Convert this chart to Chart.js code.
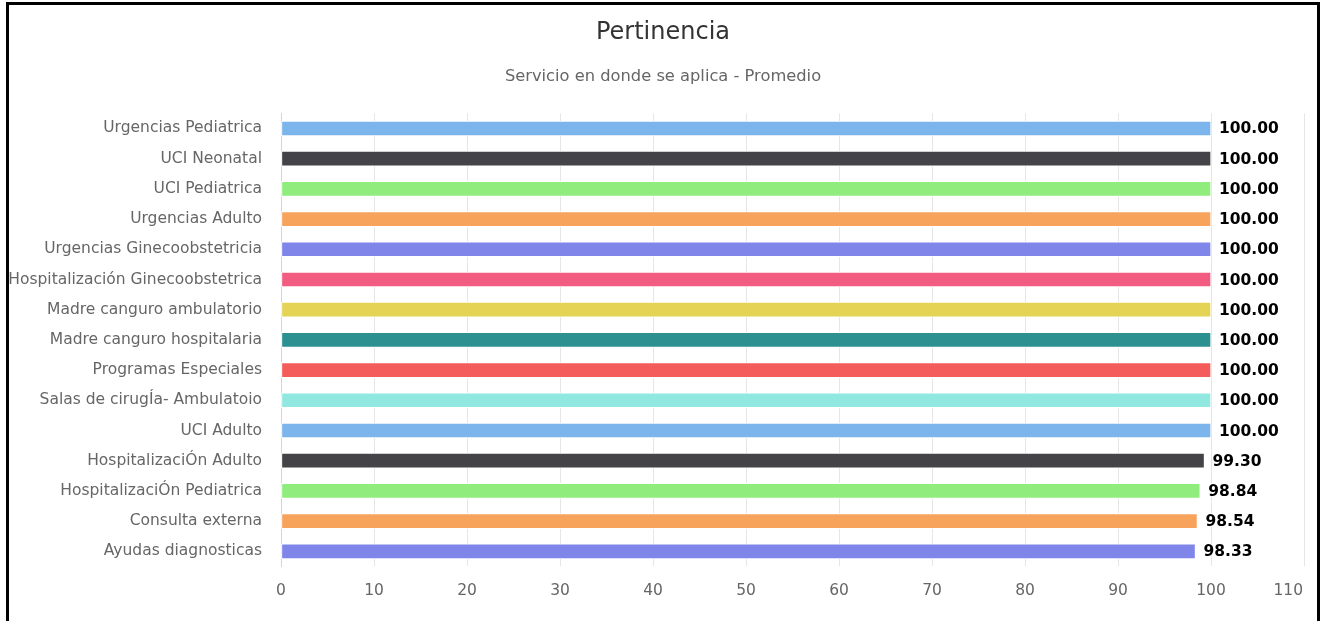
<!DOCTYPE html>
<html>
<head>
<meta charset="utf-8">
<script src="https://cdn.jsdelivr.net/npm/chart.js@4/dist/chart.umd.min.js"></script>
<style>
    html, body { margin: 0; padding: 0; background: #ffffff; overflow: hidden; }
    #marco { position: absolute; left: 6px; top: 2px; width: 1314px; height: 700px; box-sizing: border-box;
             border: 3px solid #000; border-bottom: none; }
    #grafico { position: absolute; left: 0; top: 0; }
</style>
</head>
<body>
<div id="marco"></div>
<canvas id="grafico" width="1322" height="621"></canvas>
<script>
// servicios (categorias) y promedios de pertinencia
const servicios = [
    'Urgencias Pediatrica', 'UCI Neonatal', 'UCI Pediatrica', 'Urgencias Adulto',
    'Urgencias Ginecoobstetricia', 'Hospitalización Ginecoobstetrica', 'Madre canguro ambulatorio',
    'Madre canguro hospitalaria', 'Programas Especiales', 'Salas de cirugÍa- Ambulatoio',
    'UCI Adulto', 'HospitalizaciÓn Adulto', 'HospitalizaciÓn Pediatrica', 'Consulta externa',
    'Ayudas diagnosticas'
];
const promedios = [100, 100, 100, 100, 100, 100, 100, 100, 100, 100, 100, 99.30, 98.84, 98.54, 98.33];
const paleta = ['#7cb5ec', '#434348', '#90ed7d', '#f7a35c', '#8085e9',
                '#f15c80', '#e4d354', '#2b908f', '#f45b5b', '#91e8e1'];
const ejeMin = 0, ejeMax = 110, ejePaso = 10;

Chart.defaults.font.family = '"DejaVu Sans", sans-serif';

const centrarTitulos = { // el titulo en el original esta centrado en todo el ancho, movemos un poco
    id: 'centrarTitulos',
    afterLayout(chart) {
        chart.boxes.forEach(function(caja) {
            if (caja.options && caja.options.text && caja.position === 'top') {
                caja.left += 11;
                caja.right += 11;
            }
        });
    }
};

const etiquetasValor = { // rotulos de valor al final de cada barra + ultimo tick ajustado a la derecha
    id: 'etiquetasValor',
    afterDatasetsDraw(chart) {
        const ctx = chart.ctx;
        const meta = chart.getDatasetMeta(0);
        ctx.save();
        ctx.font = 'bold 15.5px "DejaVu Sans"';
        ctx.textAlign = 'left';
        ctx.textBaseline = 'middle';
        ctx.lineJoin = 'round';
        meta.data.forEach(function(barra, i) {
            let texto = promedios[i].toFixed(2);
            ctx.strokeStyle = '#ffffff';
            ctx.lineWidth = 2;
            ctx.strokeText(texto, barra.x + 8, barra.y + 1);
            ctx.fillStyle = '#000000';
            ctx.fillText(texto, barra.x + 8, barra.y + 1);
        });
        // el ultimo tick (110) va alineado a la derecha, como en highcharts
        const ejeX = chart.scales.x;
        ctx.font = '15.5px "DejaVu Sans"';
        ctx.textAlign = 'right';
        ctx.textBaseline = 'middle';
        ctx.fillStyle = '#666666';
        ctx.fillText(String(ejeMax), ejeX.getPixelForValue(ejeMax) - 1, ejeX.top + 15 + 9.3);
        ctx.restore();
    }
};

const ctxBar = document.getElementById('grafico').getContext('2d');
const grafico = new Chart(ctxBar, {
    type: 'bar',
    data: {
        labels: servicios,
        datasets: [{
            label: 'Promedio',
            data: promedios,
            backgroundColor: servicios.map((_, i) => paleta[i % paleta.length]),
            borderColor: '#ffffff',
            borderWidth: 1,
            borderSkipped: false,
            barThickness: 15
        }]
    },
    options: {
        indexAxis: 'y',
        responsive: false,
        animation: false,
        layout: { padding: { left: 0, right: 18, top: 0, bottom: 6 } },
        plugins: {
            legend: { display: false },
            tooltip: { enabled: false },
            title: {
                display: true,
                text: 'Pertinencia',
                color: '#333333',
                font: { size: 24, weight: 'normal' },
                padding: { top: 18, bottom: 0 }
            },
            subtitle: {
                display: true,
                text: 'Servicio en donde se aplica - Promedio',
                color: '#666666',
                font: { size: 16.3, weight: 'normal' },
                padding: { top: 20, bottom: 27 }
            }
        },
        scales: {
            x: {
                min: ejeMin,
                max: ejeMax,
                ticks: {
                    stepSize: ejePaso,
                    color: (c) => (c.tick && c.tick.value === ejeMax) ? 'rgba(0,0,0,0)' : '#666666',
                    font: { size: 15.5 },
                    padding: 15
                },
                grid: { color: '#e6e6e6', drawTicks: false },
                border: { display: false },
                afterFit: function(scale) { scale.paddingRight = 0; scale.paddingLeft = 0; }
            },
            y: {
                ticks: { color: '#666666', font: { size: 15.5 }, padding: 11, autoSkip: false },
                grid: { display: false },
                border: { display: true, color: '#ccd6eb', width: 1 },
                afterFit: function(scale) { scale.width = 281; }
            }
        }
    },
    plugins: [centrarTitulos, etiquetasValor]
});
</script>
</body>
</html>
